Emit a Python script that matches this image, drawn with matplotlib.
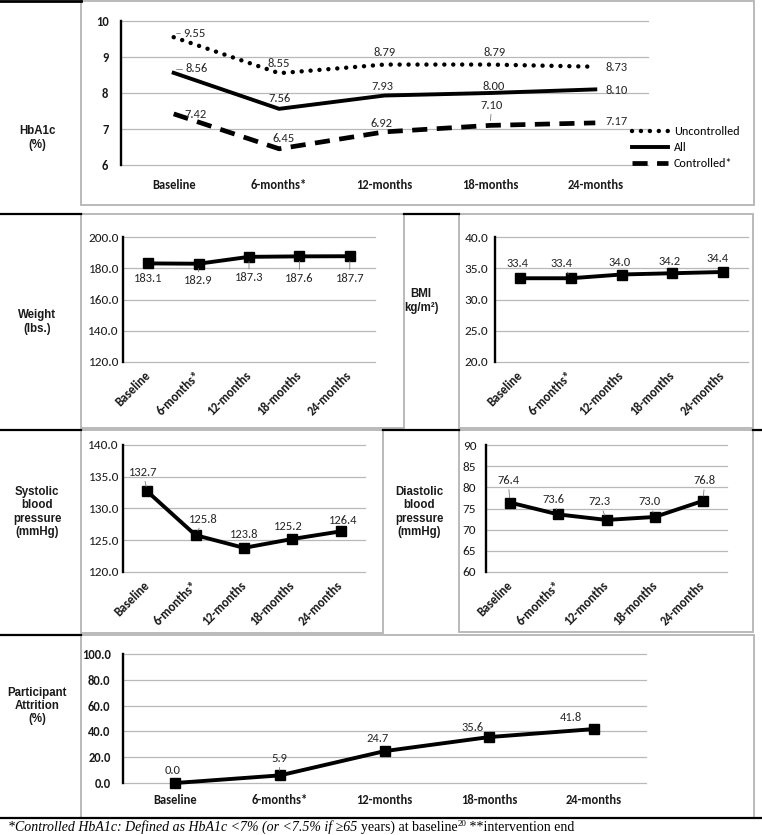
import matplotlib
matplotlib.use("Agg")
import matplotlib.pyplot as plt
from matplotlib import font_manager
from matplotlib.patches import Rectangle
from matplotlib.lines import Line2D
import numpy as np

# data
categories = ['Baseline', '6-months*', '12-months', '18-months', '24-months']
hba1c_uncontrolled = [9.55, 8.55, 8.79, 8.79, 8.73]
hba1c_all = [8.56, 7.56, 7.93, 8.00, 8.10]
hba1c_controlled = [7.42, 6.45, 6.92, 7.10, 7.17]
weight = [183.1, 182.9, 187.3, 187.6, 187.7]
bmi = [33.4, 33.4, 34.0, 34.2, 34.4]
systolic = [132.7, 125.8, 123.8, 125.2, 126.4]
diastolic = [76.4, 73.6, 72.3, 73.0, 76.8]
attrition = [0.0, 5.9, 24.7, 35.6, 41.8]

W, H = 762, 835
names = {f.name for f in font_manager.fontManager.ttflist}
LABEL_FONT = 'Carlito' if 'Carlito' in names else 'Lato'
ARIAL = 'Liberation Sans'
GRID = '#b8b8b8'
BOX = '#b4b4b4'
TXT = '#1a1a1a'

fig = plt.figure(figsize=(W / 100, H / 100), dpi=100)


def fy(y):
    return 1 - y / H


def add_ax(x0, y0, x1, y1):
    return fig.add_axes([x0 / W, 1 - y1 / H, (x1 - x0) / W, (y1 - y0) / H])


def box(x0, y0, x1, y1):
    fig.add_artist(Rectangle((x0 / W, fy(y1)), (x1 - x0) / W, (y1 - y0) / H,
                             transform=fig.transFigure, fill=False, ec=BOX, lw=1.3))


def hline(x0, x1, y, color='black', lw=1.6):
    fig.add_artist(Line2D([x0 / W, x1 / W], [fy(y), fy(y)], transform=fig.transFigure,
                          color=color, lw=lw))


def style(ax, ylim, yticks, yfmt, yweight, ysize, ypad):
    ax.set_xlim(-0.5, 4.5)
    ax.set_ylim(*ylim)
    ax.set_yticks(yticks)
    ax.set_yticklabels([yfmt.format(t) for t in yticks], fontfamily=LABEL_FONT,
                       fontweight=yweight, fontsize=ysize, color=TXT)
    ax.yaxis.grid(True, color=GRID, lw=0.9)
    for gl in ax.get_ygridlines():
        gl.set_clip_on(False)
    ax.set_axisbelow(True)
    for s in ['top', 'right', 'bottom']:
        ax.spines[s].set_visible(False)
    ax.spines['left'].set_color('black')
    ax.spines['left'].set_linewidth(1.7)
    ax.tick_params(axis='both', length=0)
    ax.tick_params(axis='y', pad=ypad)
    ax.set_xticks(range(len(categories)))
    ax.patch.set_alpha(0)


def flat_xlabels(ax, pad):
    ax.set_xticklabels(categories, fontfamily=LABEL_FONT, fontweight='bold', fontsize=9,
                       color=TXT)
    ax.tick_params(axis='x', pad=pad)


def rot_xlabels(ax, pad):
    ax.set_xticklabels(categories, rotation=45, ha='right', va='center',
                       rotation_mode='anchor', fontfamily=LABEL_FONT, fontweight='bold',
                       fontsize=9, color=TXT)
    ax.tick_params(axis='x', pad=pad)


def label_points(ax, values, fmt, offsets, leaders, conn=None):
    for i, v in enumerate(values):
        dx, dy = offsets[i]
        props = None
        if leaders[i]:
            props = dict(arrowstyle='-', color='#7a7a7a', lw=0.6, shrinkA=0.5, shrinkB=3.5)
            if conn and conn[i]:
                props['connectionstyle'] = conn[i]
        ax.annotate(fmt.format(v), (i, v), xytext=(dx, dy), textcoords='offset pixels',
                    ha='center', va='center', fontsize=9, fontfamily=LABEL_FONT,
                    color='#262626', arrowprops=props)


def line_panel(ax, values):
    ax.plot(range(len(values)), values, color='black', lw=2.8, marker='s', ms=6.6,
            solid_joinstyle='miter', clip_on=False)


# ---- table rules and chart boxes ----
hline(0, 81, 1, lw=2)
hline(0, 81, 214)
hline(404, 459, 214)
hline(0, 81, 430)
hline(383, 459, 430)
hline(753, 762, 430)
hline(0, 81, 635)
hline(0, 762, 818, lw=1.6)
box(81, 1, 754, 205)
box(81, 214, 404, 428)
box(459, 214, 753, 428)
box(81, 430, 383, 633)
box(459, 430, 753, 632)
box(81, 635, 754, 818)

row_label = dict(ha='center', va='center', fontweight='bold', fontfamily=ARIAL,
                 fontsize=8.3, linespacing=1.15, color=TXT)
fig.text(37 / W, fy(138), 'HbA1c\n(%)', **row_label)
fig.text(37 / W, fy(322), 'Weight\n(lbs.)', **row_label)
fig.text(421 / W, fy(301), 'BMI\nkg/m²)', **row_label)
fig.text(37 / W, fy(512), 'Systolic\nblood\npressure\n(mmHg)', **row_label)
fig.text(419 / W, fy(512), 'Diastolic\nblood\npressure\n(mmHg)', **row_label)
fig.text(37 / W, fy(706), 'Participant\nAttrition\n(%)', **row_label)

# ---- HbA1c ----
ax1 = add_ax(121, 21, 648, 165)
style(ax1, (6, 10), np.arange(6, 11, 1), '{:.0f}', 'bold', 9, 9)
flat_xlabels(ax1, 10)
x = range(len(categories))
l_unc, = ax1.plot(x, hba1c_uncontrolled, color='black', lw=3.2,
                  linestyle=(0, (0.01, 2.0)), dash_capstyle='round', label='Uncontrolled')
l_all, = ax1.plot(x, hba1c_all, color='black', lw=2.8, label='All')
l_ctl, = ax1.plot(x, hba1c_controlled, color='black', lw=3.4,
                  linestyle=(0, (3.2, 2.0)), label='Controlled*')
label_points(ax1, hba1c_uncontrolled, '{:.2f}', [(21, 4), (0, 10), (0, 12), (5, 12), (21, -1)],
             [1, 0, 0, 0, 0], ['angle,angleA=180,angleB=90,rad=0', None, None, None, None])
label_points(ax1, hba1c_all, '{:.2f}', [(23, 4), (0, 10), (-2, 9), (4, 7), (21, -1)],
             [1, 0, 0, 0, 0], ['angle,angleA=180,angleB=90,rad=0', None, None, None, None])
label_points(ax1, hba1c_controlled, '{:.2f}', [(22, -1), (5, 10), (-3, 8), (2, 20), (21, 1)],
             [0, 0, 0, 1, 0])
ax1.legend(handles=[l_unc, l_all, l_ctl], loc='upper left',
           bbox_to_anchor=(632 / W, fy(126)), bbox_transform=fig.transFigure,
           frameon=False, borderpad=0, borderaxespad=0, handlelength=3.0,
           handletextpad=0.45, labelspacing=0.42,
           prop=dict(family=LABEL_FONT, size=8.7))

# ---- Weight ----
ax2 = add_ax(123, 237, 375, 362)
style(ax2, (120, 200), np.arange(120, 201, 20), '{:.1f}', 'normal', 9.5, 3)
rot_xlabels(ax2, 8)
line_panel(ax2, weight)
label_points(ax2, weight, '{:.1f}', [(0, -15), (0, -17), (0, -21), (0, -22), (0, -22)],
             [0, 1, 1, 1, 1])

# ---- BMI ----
ax3 = add_ax(495, 237, 748, 362)
style(ax3, (20, 40), np.arange(20, 41, 5), '{:.1f}', 'normal', 9.5, 5)
rot_xlabels(ax3, 8)
line_panel(ax3, bmi)
label_points(ax3, bmi, '{:.1f}', [(-3, 15), (-9, 15), (-2, 12), (-3, 12), (-5, 14)],
             [0, 1, 0, 0, 0])

# ---- Systolic ----
ax4 = add_ax(123, 445, 365, 572)
style(ax4, (120, 140), np.arange(120, 141, 5), '{:.1f}', 'normal', 9.5, 3)
rot_xlabels(ax4, 8)
line_panel(ax4, systolic)
label_points(ax4, systolic, '{:.1f}', [(-4, 19), (8, 16), (0, 13), (-4, 12), (2, 11)],
             [1, 1, 0, 0, 0])

# ---- Diastolic ----
ax5 = add_ax(486, 445, 727, 572)
style(ax5, (60, 90), np.arange(60, 91, 5), '{:.0f}', 'normal', 9.5, 7)
rot_xlabels(ax5, 8)
line_panel(ax5, diastolic)
label_points(ax5, diastolic, '{:.1f}', [(-2, 22), (-5, 15), (-7, 18), (-5, 15), (2, 20)],
             [1, 1, 1, 1, 1])

# ---- Attrition ----
ax6 = add_ax(123, 654, 646, 783)
style(ax6, (0, 100), np.arange(0, 101, 20), '{:.1f}', 'bold', 9, 9)
flat_xlabels(ax6, 8)
line_panel(ax6, attrition)
label_points(ax6, attrition, '{:.1f}', [(-3, 13), (-1, 17), (-7, 13), (-17, 10), (-23, 12)],
             [0, 1, 0, 0, 0])

# ---- footnote (italic part, regular part, superscript) ----
renderer = fig.canvas.get_renderer()
foot = dict(fontfamily='Liberation Serif', fontsize=10, va='baseline', color='black')
xpos = 8
t = fig.text(xpos / W, fy(831), '*Controlled HbA1c: Defined as HbA1c <7% (or <7.5% if ≥65 ',
             style='italic', **foot)
xpos += t.get_window_extent(renderer).width
t = fig.text(xpos / W, fy(831), 'years) at baseline', **foot)
xpos += t.get_window_extent(renderer).width
t = fig.text(xpos / W, fy(826), '20', fontfamily='Liberation Serif', fontsize=6.5,
             va='baseline', color='black')
xpos += t.get_window_extent(renderer).width
fig.text(xpos / W, fy(831), ' **intervention end', **foot)

fig.savefig('out.png', dpi=100)
